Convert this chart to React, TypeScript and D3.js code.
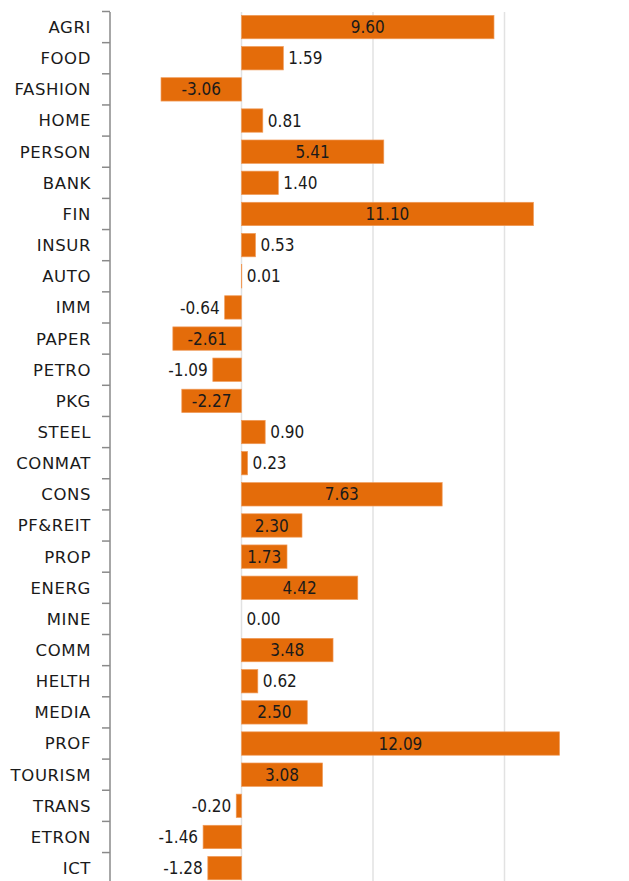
import * as d3 from 'd3';

const sectors = [
  'AGRI', 'FOOD', 'FASHION', 'HOME', 'PERSON', 'BANK', 'FIN', 'INSUR', 'AUTO', 'IMM',
  'PAPER', 'PETRO', 'PKG', 'STEEL', 'CONMAT', 'CONS', 'PF&REIT', 'PROP', 'ENERG', 'MINE',
  'COMM', 'HELTH', 'MEDIA', 'PROF', 'TOURISM', 'TRANS', 'ETRON', 'ICT',
];
const changes = [
  9.6, 1.59, -3.06, 0.81, 5.41, 1.4, 11.1, 0.53, 0.01, -0.64,
  -2.61, -1.09, -2.27, 0.9, 0.23, 7.63, 2.3, 1.73, 4.42, 0.0,
  3.48, 0.62, 2.5, 12.09, 3.08, -0.2, -1.46, -1.28,
];
const gridTicks = [0, 5, 10, 15];

const W = 629;
const H = 881;
const axisX = 110;
const barColor = '#E46C0A';

export default function App() {
  const x = d3.scaleLinear().domain([-5, 15]).range([axisX, 636]);
  const y = d3
    .scaleBand<string>()
    .domain(sectors)
    .range([11.5, 883.7])
    .paddingInner(0.25)
    .paddingOuter(0.125);

  const step = y.step();
  const x0 = x(0);

  const bars = sectors.map((s, i) => {
    const v = changes[i];
    const bx = Math.min(x(v), x0);
    const bw = Math.abs(x(v) - x0);
    const by = y(s)!;
    const cy = by + y.bandwidth() / 2;
    const inside = Math.abs(v) >= 1.65;
    let tx = (x(v) + x0) / 2;
    let anchor = 'middle';
    if (!inside) {
      if (v >= 0) {
        tx = x(v) + 5;
        anchor = 'start';
      } else {
        tx = x(v) - 5;
        anchor = 'end';
      }
    }
    return (
      <g key={s}>
        <rect x={bx} y={by} width={bw} height={y.bandwidth()} fill={barColor} stroke='#F09A58' strokeWidth={0.7} />
        <text x={tx} y={cy} dy='0.36em' textAnchor={anchor} style={{ fontFamily: 'DejaVu Sans Condensed', fontSize: 17, fill: '#1a1a1a' }}>
          {v.toFixed(2)}
        </text>
      </g>
    );
  });

  const boundaries = d3.range(sectors.length + 1).map((i) => 11.5 + i * step);

  return (
    <svg width={W} height={H} style={{ position: 'absolute', left: 0, top: 0, background: '#fff' }}>
      <g>
        {gridTicks.map((t) => (
          <line key={t} x1={x(t)} x2={x(t)} y1={12} y2={H} stroke='#e2e2e2' strokeWidth={1.5} />
        ))}
      </g>
      <g>{bars}</g>
      <g stroke='#8a8a8a' strokeWidth={1.5}>
        <line x1={axisX} x2={axisX} y1={12} y2={H} />
        {boundaries.map((b, i) => (
          <line key={i} x1={axisX - 8} x2={axisX} y1={b} y2={b} />
        ))}
      </g>
      <g style={{ fontFamily: 'DejaVu Sans', fontSize: 16.5, fill: '#1a1a1a', letterSpacing: 0.6 }}>
        {sectors.map((s) => (
          <text key={s} x={91} y={y(s)! + y.bandwidth() / 2} dy='0.36em' textAnchor='end'>
            {s}
          </text>
        ))}
      </g>
    </svg>
  );
}
